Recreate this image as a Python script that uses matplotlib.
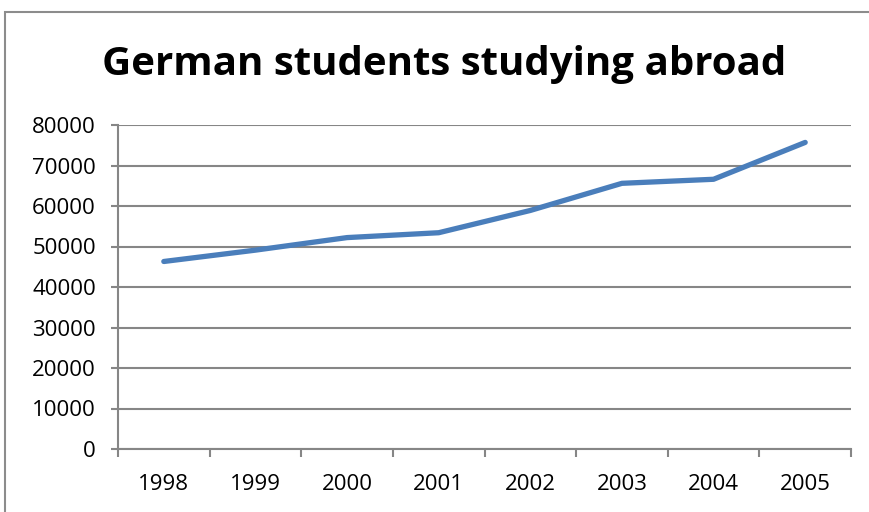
import matplotlib.pyplot as plt
from matplotlib.patches import Rectangle
from matplotlib.ticker import FixedLocator, NullFormatter

years = ['1998', '1999', '2000', '2001', '2002', '2003', '2004', '2005']
students = [46300, 49100, 52200, 53400, 58900, 65600, 66600, 75700]
y_ticks = [0, 10000, 20000, 30000, 40000, 50000, 60000, 70000, 80000]

grey = '#868686'
font = 'Open Sans'

fig = plt.figure(figsize=(8.69, 5.12), dpi=100)
ax = fig.add_axes([118 / 869, 1 - 449 / 512, (851 - 118) / 869, (449 - 125) / 512])

# outer chart frame
fig.patches.append(Rectangle((5 / 869, -0.1), 1.2, 1 - 12 / 512 + 0.1,
                             transform=fig.transFigure, fill=False,
                             edgecolor='#8c8c8c', linewidth=1.5))

xs = list(range(len(years)))
ax.plot(xs, students, color='#4a7ebb', linewidth=3.8,
        solid_capstyle='round', solid_joinstyle='round', zorder=3)

ax.set_xlim(-0.5, len(years) - 0.5)
ax.set_ylim(0, 80000)

# gridlines and axes
for s in ['top', 'right']:
    ax.spines[s].set_visible(False)
for s in ['left', 'bottom']:
    ax.spines[s].set_color(grey)
    ax.spines[s].set_linewidth(1.5)
ax.set_yticks(y_ticks)
ax.set_yticklabels([str(v) for v in y_ticks], fontsize=16, family=font)
ax.yaxis.grid(True, color=grey, linewidth=1.5)
ax.set_axisbelow(True)
ax.tick_params(axis='y', length=5, width=1.5, color=grey, pad=11)

# category ticks sit between years, labels at the centres
ax.xaxis.set_major_locator(FixedLocator([i - 0.5 for i in range(len(years) + 1)]))
ax.xaxis.set_major_formatter(NullFormatter())
ax.xaxis.set_minor_locator(FixedLocator(xs))
ax.set_xticklabels(years, minor=True, fontsize=16, family=font)
ax.tick_params(axis='x', which='major', length=6, width=1.5, color=grey)
ax.tick_params(axis='x', which='minor', length=0, pad=18)

fig.text(444 / 869, 1 - 65 / 512, 'German students studying abroad',
         ha='center', va='center', fontsize=29, fontweight='bold', family=font)

fig.savefig('out.png', dpi=100)
